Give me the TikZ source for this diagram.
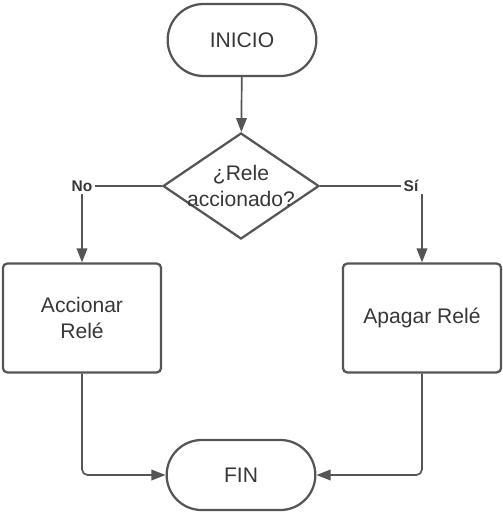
\documentclass[tikz,border=0pt]{standalone}
\usepackage{fontspec}
\setmainfont{Liberation Sans}
\usepackage{tikz}
\usetikzlibrary{shapes.geometric, shapes.misc, arrows.meta}

\definecolor{linegray}{RGB}{85,85,85}
\definecolor{textgray}{RGB}{55,55,55}

\tikzset{
    terminal/.style={draw=linegray, line width=1.6pt, rounded rectangle, minimum width=3.95cm, minimum height=1.8cm},
    decision/.style={draw=linegray, line width=1.6pt, diamond, minimum width=3.9cm, minimum height=2.65cm, inner sep=0pt},
    process/.style={draw=linegray, line width=1.6pt, rounded corners=3pt, minimum width=3.95cm, minimum height=2.72cm, align=center},
    txt/.style={text=textgray, font=\fontsize{15}{18}\selectfont},
    answer/.style={text=textgray, font=\fontsize{11}{13}\selectfont\bfseries, inner sep=1.5pt},
    flow/.style={draw=linegray, line width=1.2pt, -{Triangle[length=10pt, width=7.5pt]}},
    wire/.style={draw=linegray, line width=1.2pt}
}

\begin{document}
\begin{tikzpicture}[x=0.025cm, y=-0.025cm]
                    \useasboundingbox (0,0) rectangle (502,515);
                    \node[terminal, txt] (inicio) at (242,40) {INICIO};
                    \node[decision] (rele) at (241,186) {};
                    \node[txt, align=center] (pregunta) at (rele) {¿Rele\\accionado?};
                    \node[answer] (no) at (82,186) {No};
                    \node[answer] (si) at (411,186) {Sí};
                    \node[process, txt] (accionar) at (82,318) {Accionar\\Relé};
                    \node[process, txt] (apagar) at (422,318) {Apagar Relé};
                    \node[terminal, txt, minimum height=1.75cm] (fin) at (241,475) {FIN};
                    \draw[flow] (inicio) -- (rele);
                    \draw[wire] (rele.west) -- (no.east);
                    \draw[wire] (rele.east) -- (si.west);
                    \draw[flow] (no.south) -- (accionar.north);
                    \draw[flow] (si.south -| apagar.north) -- (apagar.north);
                    \draw[flow, rounded corners=4pt] (accionar.south) |- (fin.west);
                    \draw[flow, rounded corners=4pt] (apagar.south) |- (fin.east);
                \end{tikzpicture}
\end{document}
